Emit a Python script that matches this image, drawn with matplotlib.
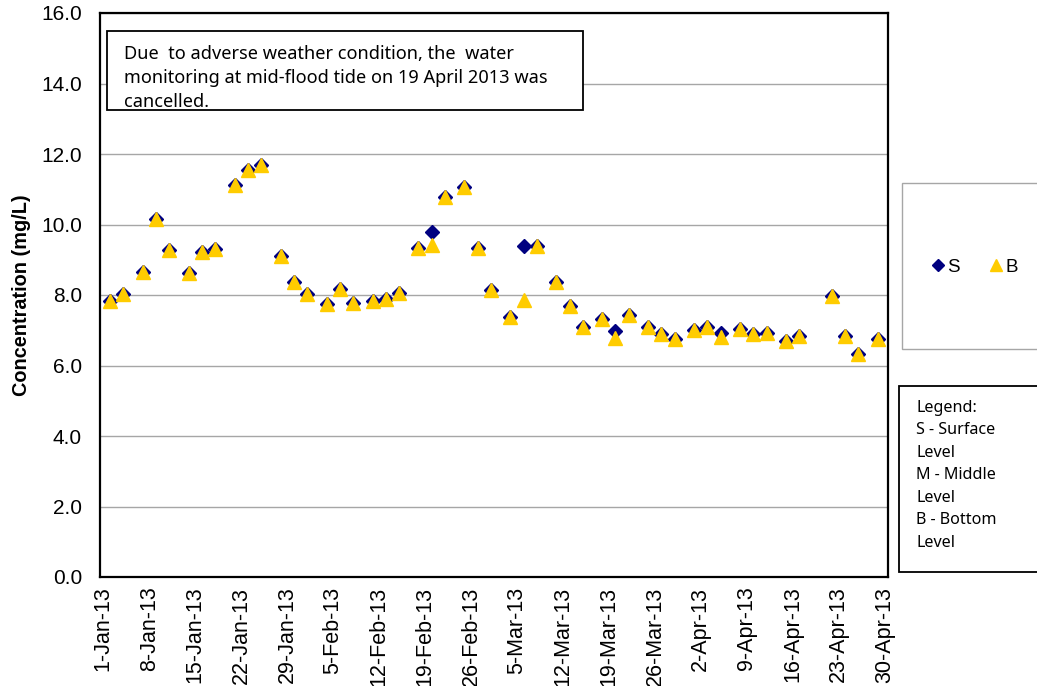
import matplotlib
matplotlib.use("Agg")
import matplotlib.pyplot as plt
from matplotlib.patches import Rectangle
from matplotlib.lines import Line2D
import pandas as pd

# sampling days (Mon / Wed / Fri), 19 Apr 2013 cancelled
sample_dates = [
    "2013-01-02", "2013-01-04", "2013-01-07", "2013-01-09", "2013-01-11",
    "2013-01-14", "2013-01-16", "2013-01-18", "2013-01-21", "2013-01-23",
    "2013-01-25", "2013-01-28", "2013-01-30",
    "2013-02-01", "2013-02-04", "2013-02-06", "2013-02-08", "2013-02-11",
    "2013-02-13", "2013-02-15", "2013-02-18", "2013-02-20", "2013-02-22",
    "2013-02-25", "2013-02-27",
    "2013-03-01", "2013-03-04", "2013-03-06", "2013-03-08", "2013-03-11",
    "2013-03-13", "2013-03-15", "2013-03-18", "2013-03-20", "2013-03-22",
    "2013-03-25", "2013-03-27", "2013-03-29",
    "2013-04-01", "2013-04-03", "2013-04-05", "2013-04-08", "2013-04-10",
    "2013-04-12", "2013-04-15", "2013-04-17", "2013-04-22", "2013-04-24",
    "2013-04-26", "2013-04-29",
]

bottom_level = [
    7.82, 8.04, 8.64, 10.17, 9.29, 8.62, 9.22, 9.31, 11.13, 11.56, 11.68, 9.10, 8.36,
    8.02, 7.74, 8.18, 7.76, 7.84, 7.89, 8.07, 9.34, 9.42, 10.79, 11.05, 9.34,
    8.13, 7.39, 7.86, 9.39, 8.38, 7.70, 7.08, 7.32, 6.79, 7.42, 7.08, 6.90, 6.75,
    7.00, 7.08, 6.80, 7.03, 6.89, 6.93, 6.70, 6.85, 7.98, 6.84, 6.34, 6.76,
]

surface_level = [
    7.82, 8.04, 8.64, 10.17, 9.29, 8.62, 9.22, 9.31, 11.13, 11.56, 11.68, 9.10, 8.36,
    8.02, 7.74, 8.18, 7.76, 7.84, 7.89, 8.07, 9.34, 9.80, 10.79, 11.05, 9.34,
    8.13, 7.39, 9.39, 9.39, 8.38, 7.70, 7.08, 7.32, 6.98, 7.42, 7.08, 6.90, 6.75,
    7.00, 7.08, 6.93, 7.03, 6.89, 6.93, 6.70, 6.85, 7.98, 6.84, 6.34, 6.76,
]

y_ticks = [0, 2, 4, 6, 8, 10, 12, 14, 16]

note_text = ("Due  to adverse weather condition, the  water\n"
             "monitoring at mid-flood tide on 19 April 2013 was\n"
             "cancelled.")
legend_text = "Legend:\nS - Surface\nLevel\nM - Middle\nLevel\nB - Bottom\nLevel"

NAVY = "#000080"
GOLD = "#FFCC00"
TICK_FONT = "Liberation Sans"
NOTE_FONT = "Noto Sans"

W, H = 1037, 686
dates = pd.to_datetime(sample_dates)
tick_dates = pd.date_range("2013-01-01", "2013-04-30", freq="7D")


def fx(px):
    return px / W


def fy(py):
    return 1 - py / H


fig = plt.figure(figsize=(W / 100, H / 100), dpi=100)
ax = fig.add_axes([fx(100), fy(577), fx(888) - fx(100), fy(13) - fy(577)])

ax.plot(dates, surface_level, linestyle="none", marker="D", markersize=7.5,
        color=NAVY, label="S", zorder=3)
ax.plot(dates, bottom_level, linestyle="none", marker="^", markersize=10,
        color=GOLD, label="B", zorder=4)

ax.set_xlim(pd.Timestamp("2012-12-31 12:00"), pd.Timestamp("2013-04-30 12:00"))
ax.set_ylim(0, 16)
ax.set_yticks(y_ticks)
ax.set_yticklabels([f"{v:.1f}" for v in y_ticks], fontsize=15, family=TICK_FONT)
ax.set_xticks(tick_dates)
ax.set_xticklabels([f"{d.day}-{d:%b-%y}" for d in tick_dates], rotation=90,
                   fontsize=15.5, family=TICK_FONT)
ax.tick_params(axis="y", length=0, pad=13)
ax.tick_params(axis="x", length=0, pad=7)
ax.yaxis.grid(True, color="#a6a6a6", linewidth=1.0)
ax.set_axisbelow(True)
for s in ax.spines.values():
    s.set_linewidth(1.6)
    s.set_color("black")

ax.set_ylabel("Concentration (mg/L)", fontsize=14.3, fontweight="bold",
              family=TICK_FONT)
ax.yaxis.set_label_coords(-0.088, 0.5)

# note box inside the plot
fig.add_artist(Rectangle((fx(107), fy(110)), fx(583) - fx(107), fy(31) - fy(110),
                         transform=fig.transFigure, facecolor="white",
                         edgecolor="black", linewidth=1.3, zorder=5))
fig.text(fx(124), fy(45), note_text, family=NOTE_FONT, fontsize=13.1,
         va="top", ha="left", linespacing=1.42, zorder=6)

# series legend box
fig.add_artist(Rectangle((fx(902), fy(349)), fx(1045) - fx(902), fy(183) - fy(349),
                         transform=fig.transFigure, facecolor="white",
                         edgecolor="#a6a6a6", linewidth=1.0, zorder=5))
handles = [Line2D([], [], linestyle="none", marker="D", markersize=6, color=NAVY),
           Line2D([], [], linestyle="none", marker="^", markersize=8, color=GOLD)]
leg = fig.legend(handles, ["S", "B"], ncol=2, frameon=False, loc="center",
                 bbox_to_anchor=(fx(975), fy(267)), handlelength=0.6,
                 handletextpad=0.2, columnspacing=1.6,
                 prop={"family": TICK_FONT, "size": 13.5})
leg.set_zorder(6)

# abbreviation legend box
fig.add_artist(Rectangle((fx(899), fy(572)), fx(1045) - fx(899), fy(386) - fy(572),
                         transform=fig.transFigure, facecolor="white",
                         edgecolor="black", linewidth=1.3, zorder=5))
fig.text(fx(916), fy(399.5), legend_text, family=NOTE_FONT, fontsize=11.6,
         va="top", ha="left", linespacing=1.55, zorder=6)

fig.savefig("out.png", dpi=100)
